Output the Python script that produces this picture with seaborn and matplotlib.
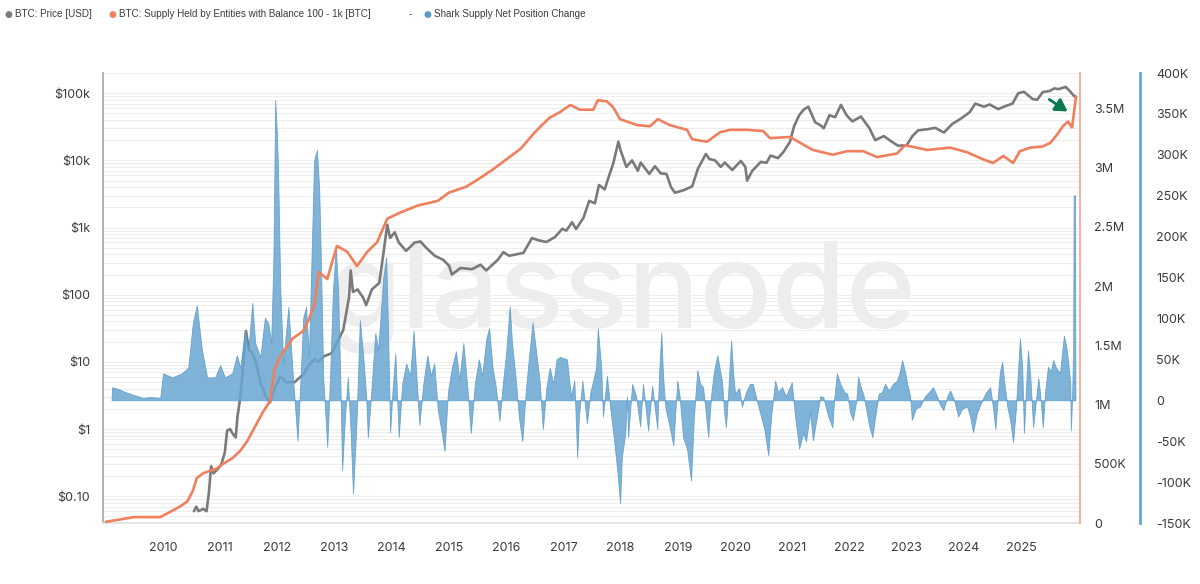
import matplotlib
matplotlib.use("Agg")
import matplotlib.pyplot as plt
import matplotlib.ticker as mticker
import seaborn as sns
import pandas as pd

# BTC price [USD] (decimal year, price)
price_years = [2010.54, 2010.58, 2010.62, 2010.70, 2010.76, 2010.80, 2010.84, 2010.88, 2010.95, 2011.02,
               2011.08, 2011.12, 2011.17, 2011.22, 2011.27, 2011.30, 2011.35, 2011.40, 2011.45, 2011.50,
               2011.55, 2011.62, 2011.70, 2011.80, 2011.87, 2011.95, 2012.05, 2012.15, 2012.30, 2012.45,
               2012.55, 2012.65, 2012.72, 2012.80, 2012.95, 2013.05, 2013.15, 2013.25, 2013.28, 2013.32,
               2013.40, 2013.50, 2013.55, 2013.65, 2013.78, 2013.85, 2013.92, 2013.97, 2014.05, 2014.12,
               2014.25, 2014.40, 2014.50, 2014.60, 2014.75, 2014.90, 2015.00, 2015.05, 2015.20, 2015.40,
               2015.55, 2015.65, 2015.85, 2015.95, 2016.05, 2016.30, 2016.45, 2016.55, 2016.70, 2016.85,
               2016.98, 2017.05, 2017.15, 2017.22, 2017.35, 2017.45, 2017.55, 2017.62, 2017.72, 2017.80,
               2017.87, 2017.96, 2018.00, 2018.10, 2018.20, 2018.30, 2018.35, 2018.50, 2018.60, 2018.70,
               2018.80, 2018.88, 2018.95, 2019.10, 2019.25, 2019.35, 2019.49, 2019.55, 2019.65, 2019.75,
               2019.82, 2019.95, 2020.10, 2020.18, 2020.21, 2020.30, 2020.45, 2020.55, 2020.62, 2020.75,
               2020.85, 2020.96, 2021.03, 2021.12, 2021.20, 2021.28, 2021.40, 2021.50, 2021.55, 2021.65,
               2021.75, 2021.85, 2021.95, 2022.05, 2022.20, 2022.35, 2022.45, 2022.60, 2022.72, 2022.85,
               2023.00, 2023.10, 2023.20, 2023.35, 2023.50, 2023.65, 2023.80, 2023.95, 2024.10, 2024.20,
               2024.35, 2024.45, 2024.60, 2024.70, 2024.85, 2024.95, 2025.05, 2025.20, 2025.28, 2025.38,
               2025.50, 2025.58, 2025.65, 2025.78, 2025.85, 2025.92, 2025.96]
price_usd = [0.06, 0.07, 0.06, 0.065, 0.06, 0.11, 0.28, 0.22, 0.25, 0.30,
             0.45, 0.95, 1.0, 0.85, 0.75, 1.5, 3.0, 8.5, 29, 15,
             14, 10, 5, 3, 2.5, 4.0, 6.0, 5.0, 5.0, 6.5,
             9.0, 11, 10, 12, 13.5, 20, 30, 90, 230, 110,
             120, 90, 70, 120, 150, 400, 1100, 700, 850, 600,
             450, 600, 620, 500, 380, 330, 270, 200, 250, 240,
             280, 230, 330, 430, 380, 420, 700, 650, 610, 720,
             960, 900, 1200, 950, 1400, 2500, 2300, 4300, 3700, 6000,
             9000, 19000, 14000, 8000, 10000, 7000, 9300, 6300, 8200, 6400,
             6300, 4000, 3300, 3600, 4100, 7500, 12500, 10500, 10000, 8000,
             9300, 7200, 9800, 8000, 5000, 7000, 9500, 9200, 11800, 10800,
             13500, 19000, 32000, 47000, 57000, 63000, 37000, 33000, 30000, 47000,
             44000, 67000, 47000, 38000, 45000, 30000, 20000, 23000, 19500, 16500,
             16800, 23000, 28000, 29000, 30500, 26000, 35000, 42000, 52000, 70000,
             63000, 68000, 58000, 63000, 70000, 100000, 105000, 82000, 80000, 104000,
             108000, 118000, 115000, 124000, 108000, 92000, 88000]

# Supply held by entities with balance 100 - 1k BTC (millions of BTC)
supply_years = [2009.00, 2009.25, 2009.50, 2009.95, 2010.07, 2010.30, 2010.42, 2010.52, 2010.59, 2010.70,
                2010.94, 2011.05, 2011.22, 2011.35, 2011.47, 2011.57, 2011.75, 2011.87, 2011.95, 2012.05,
                2012.27, 2012.45, 2012.55, 2012.65, 2012.72, 2012.87, 2013.04, 2013.22, 2013.39, 2013.57,
                2013.74, 2013.92, 2014.14, 2014.45, 2014.80, 2015.00, 2015.30, 2015.50, 2015.75, 2016.00,
                2016.25, 2016.50, 2016.75, 2016.94, 2017.12, 2017.29, 2017.52, 2017.60, 2017.76, 2017.87,
                2017.99, 2018.29, 2018.51, 2018.65, 2018.86, 2019.16, 2019.25, 2019.51, 2019.74, 2019.91,
                2020.21, 2020.49, 2020.61, 2020.96, 2021.14, 2021.36, 2021.71, 2021.96, 2022.24, 2022.48,
                2022.83, 2022.97, 2023.36, 2023.76, 2024.06, 2024.34, 2024.51, 2024.69, 2024.86, 2024.98,
                2025.16, 2025.38, 2025.51, 2025.63, 2025.73, 2025.82, 2025.89, 2025.91, 2025.96]
supply_m = [0.01, 0.03, 0.05, 0.05, 0.08, 0.14, 0.18, 0.27, 0.38, 0.42,
            0.46, 0.50, 0.55, 0.61, 0.69, 0.78, 0.94, 1.03, 1.30, 1.41,
            1.56, 1.62, 1.72, 1.85, 2.12, 2.06, 2.34, 2.29, 2.17, 2.29,
            2.37, 2.57, 2.62, 2.68, 2.72, 2.79, 2.84, 2.90, 2.98, 3.07,
            3.16, 3.30, 3.42, 3.47, 3.53, 3.49, 3.49, 3.57, 3.56, 3.51,
            3.41, 3.36, 3.35, 3.41, 3.36, 3.32, 3.24, 3.22, 3.30, 3.32,
            3.32, 3.31, 3.25, 3.26, 3.21, 3.15, 3.11, 3.14, 3.14, 3.09,
            3.12, 3.19, 3.15, 3.17, 3.13, 3.07, 3.04, 3.10, 3.04, 3.14,
            3.17, 3.18, 3.21, 3.28, 3.35, 3.39, 3.34, 3.41, 3.60]

# Shark supply net position change (thousands of BTC)
shark_years = [2009.10, 2009.11, 2009.21, 2009.34, 2009.51, 2009.65, 2009.77, 2009.95, 2010.00, 2010.16,
               2010.33, 2010.44, 2010.52, 2010.59, 2010.68, 2010.77, 2010.91, 2011.00, 2011.08, 2011.21,
               2011.29, 2011.35, 2011.43, 2011.49, 2011.56, 2011.61, 2011.70, 2011.78, 2011.84, 2011.89,
               2011.93, 2011.96, 2011.99, 2012.01, 2012.05, 2012.10, 2012.19, 2012.24, 2012.27, 2012.31,
               2012.35, 2012.40, 2012.45, 2012.50, 2012.55, 2012.64, 2012.69, 2012.73, 2012.76, 2012.80,
               2012.84, 2012.87, 2012.92, 2012.97, 2013.02, 2013.06, 2013.10, 2013.13, 2013.18, 2013.23,
               2013.28, 2013.32, 2013.38, 2013.44, 2013.50, 2013.55, 2013.58, 2013.64, 2013.71, 2013.76,
               2013.85, 2013.90, 2013.93, 2013.97, 2014.01, 2014.06, 2014.12, 2014.18, 2014.25, 2014.32,
               2014.38, 2014.42, 2014.48, 2014.55, 2014.62, 2014.68, 2014.74, 2014.80, 2014.86, 2014.92,
               2014.98, 2015.05, 2015.12, 2015.18, 2015.25, 2015.32, 2015.38, 2015.45, 2015.52, 2015.58,
               2015.65, 2015.70, 2015.76, 2015.82, 2015.88, 2015.94, 2016.00, 2016.06, 2016.10, 2016.16,
               2016.22, 2016.28, 2016.34, 2016.40, 2016.46, 2016.52, 2016.58, 2016.64, 2016.70, 2016.76,
               2016.82, 2016.88, 2016.94, 2017.06, 2017.13, 2017.19, 2017.24, 2017.27, 2017.33, 2017.41,
               2017.47, 2017.52, 2017.57, 2017.60, 2017.66, 2017.69, 2017.76, 2017.81, 2017.87, 2017.94,
               2017.99, 2018.02, 2018.08, 2018.11, 2018.13, 2018.20, 2018.27, 2018.34, 2018.39, 2018.48,
               2018.55, 2018.64, 2018.67, 2018.71, 2018.74, 2018.78, 2018.85, 2018.92, 2018.95, 2018.99,
               2019.03, 2019.09, 2019.16, 2019.23, 2019.28, 2019.34, 2019.39, 2019.44, 2019.48, 2019.53,
               2019.58, 2019.63, 2019.69, 2019.74, 2019.77, 2019.81, 2019.84, 2019.88, 2019.93, 2019.97,
               2020.00, 2020.07, 2020.12, 2020.19, 2020.26, 2020.31, 2020.38, 2020.44, 2020.51, 2020.58,
               2020.63, 2020.70, 2020.75, 2020.82, 2020.89, 2020.99, 2021.05, 2021.12, 2021.19, 2021.24,
               2021.31, 2021.36, 2021.43, 2021.49, 2021.54, 2021.63, 2021.70, 2021.73, 2021.78, 2021.84,
               2021.91, 2021.96, 2022.01, 2022.06, 2022.12, 2022.15, 2022.20, 2022.24, 2022.29, 2022.34,
               2022.40, 2022.45, 2022.51, 2022.57, 2022.62, 2022.69, 2022.76, 2022.83, 2022.88, 2022.92,
               2022.97, 2023.01, 2023.06, 2023.09, 2023.16, 2023.23, 2023.32, 2023.39, 2023.46, 2023.53,
               2023.58, 2023.64, 2023.71, 2023.76, 2023.83, 2023.90, 2023.97, 2024.06, 2024.11, 2024.16,
               2024.23, 2024.32, 2024.39, 2024.46, 2024.51, 2024.55, 2024.60, 2024.63, 2024.67, 2024.70,
               2024.76, 2024.81, 2024.86, 2024.91, 2024.95, 2024.98, 2025.02, 2025.05, 2025.09, 2025.12,
               2025.16, 2025.21, 2025.26, 2025.30, 2025.33, 2025.38, 2025.42, 2025.47, 2025.52, 2025.56,
               2025.61, 2025.68, 2025.72, 2025.75, 2025.79, 2025.82, 2025.86, 2025.87, 2025.89, 2025.91,
               2025.92, 2025.94, 2025.95]
shark_k = [0, 16, 14, 10, 6, 3, 4, 3, 33, 28,
           33, 40, 94, 116, 61, 28, 28, 43, 28, 33,
           55, 40, 86, 61, 119, 70, 53, 101, 94, 70,
           175, 367, 326, 281, 134, 45, 114, 61, 28, -10,
           -49, 20, 101, 114, 53, 293, 306, 257, 167, 28,
           -20, -57, 30, 134, 187, 134, 20, -85, -20, 28,
           -40, -114, -30, 98, 53, 5, -45, 10, 82, 61,
           150, 175, 94, -39, 10, 57, -45, 20, 45, 30,
           85, 40, -30, 20, 55, 30, 45, -10, -35, -62,
           10, 40, 60, 25, 70, 15, -40, 20, 50, 30,
           75, 88, 40, 15, -25, 20, 60, 115, 70, 30,
           -20, -50, 10, 55, 95, 60, 25, -35, 15, 40,
           20, 50, 53, 50, 5, 24, -70, -20, 24, -28,
           10, 24, 40, 88, 40, -20, 30, -5, -40, -85,
           -126, -70, -40, 5, -45, 20, 5, -32, 20, -37,
           18, -35, 30, 83, 30, -8, -30, -55, -20, 24,
           5, -45, -60, -98, -20, 37, 20, 16, -10, -45,
           5, 35, 55, 35, 24, -15, -33, 10, 73, 30,
           8, 15, -8, 10, 20, 20, 0, -16, -35, -67,
           -20, 24, 10, 16, 5, 22, -20, -59, -40, -50,
           -15, -49, -20, 5, 4, -20, -33, 0, 33, 20,
           10, 8, -15, -24, 0, 29, 15, 8, -10, -30,
           -45, -20, 8, 10, 20, 12, 20, 24, 35, 49,
           35, 20, 5, -24, -10, -8, 5, 10, 16, 5,
           -5, -12, 5, 12, 0, -20, -10, -8, -20, -39,
           -15, 0, 10, 16, -10, -35, 10, 35, 47, 25,
           -8, -25, -51, -10, 40, 76, 40, -40, 20, 61,
           30, -33, 0, 27, 10, -33, 10, 41, 35, 49,
           40, 33, 60, 79, 65, 49, 20, -37, 0, 60,
           250, 251, 0]

price_ticks = [0.1, 1, 10, 100, 1000, 10000, 100000]
price_labels = ["$0.10", "$1", "$10", "$100", "$1k", "$10k", "$100k"]
supply_ticks = [0, 0.5, 1, 1.5, 2, 2.5, 3, 3.5]
supply_labels = ["0", "500K", "1M", "1.5M", "2M", "2.5M", "3M", "3.5M"]
shark_ticks = [-150, -100, -50, 0, 50, 100, 150, 200, 250, 300, 350, 400]
shark_labels = ["-150K", "-100K", "-50K", "0", "50K", "100K", "150K", "200K", "250K", "300K", "350K", "400K"]
year_ticks = list(range(2010, 2026))

price_df = pd.DataFrame({"year": price_years, "price": price_usd})
supply_df = pd.DataFrame({"year": supply_years, "supply": supply_m})

sns.set_theme(style="white")
plt.rcParams["font.family"] = ["Inter", "DejaVu Sans"]

GREY = "#7a7a7a"
ORANGE = "#f07f5d"
BLUE = "#6aa6d2"
TXT = "#3a3a3a"
PX = 0.72  # points per pixel at dpi 100

fig = plt.figure(figsize=(12, 5.84), dpi=100)
ax = fig.add_axes([103 / 1200, 61 / 584, 977 / 1200, 450 / 584])
ax.patch.set_alpha(0)

# watermark
ax.text(0.531, 0.50, "glassnode", transform=ax.transAxes, ha="center", va="center",
        fontsize=86, color="#ededed", zorder=0, family="Inter", fontweight="medium")

# price (left, log)
sns.lineplot(data=price_df, x="year", y="price", ax=ax, color=GREY, linewidth=1.9, zorder=3)
ax.set_yscale("log")
ax.set_ylim(0.04, 2e5)
ax.set_xlim(2008.95, 2026.03)
ax.set_yticks(price_ticks)
ax.set_yticklabels(price_labels)
ax.yaxis.set_minor_locator(mticker.LogLocator(base=10, subs=range(2, 10), numticks=20))
ax.yaxis.set_minor_formatter(mticker.NullFormatter())
ax.grid(True, axis="y", which="both", color="#eeeeee", linewidth=0.8, zorder=0)
ax.set_xticks(year_ticks)
ax.set_xticklabels([str(y) for y in year_ticks])
ax.set_xlabel("")
ax.set_ylabel("")
ax.tick_params(axis="y", which="both", length=0, pad=13 * PX, labelsize=9, labelcolor=TXT)
ax.tick_params(axis="x", length=7 * PX, color="#e2e2e2", pad=12 * PX, labelsize=9, labelcolor=TXT)
ax.spines["left"].set_color("#a8a8a8")
ax.spines["bottom"].set_color("#e2e2e2")
ax.spines["top"].set_visible(False)
ax.spines["right"].set_visible(False)

# shark net position change (far right)
ax_b = ax.twinx()
ax_b.fill_between(shark_years, shark_k, 0, color=BLUE, alpha=0.85, linewidth=0.6,
                  edgecolor="#5b9bc9", zorder=2)
ax_b.set_ylim(-150, 400)
ax_b.set_yticks(shark_ticks)
ax_b.set_yticklabels(shark_labels)
ax_b.spines["right"].set_position(("outward", 60 * PX))
ax_b.spines["right"].set_color("#6aa6d2")
ax_b.spines["right"].set_linewidth(2)
for s in ["left", "top", "bottom"]:
    ax_b.spines[s].set_visible(False)
ax_b.tick_params(axis="y", length=0, pad=16 * PX, labelsize=9, labelcolor=TXT)
ax_b.grid(False)

# supply held by 100 - 1k entities (right)
ax_o = ax.twinx()
sns.lineplot(data=supply_df, x="year", y="supply", ax=ax_o, color=ORANGE, linewidth=1.9)
ax_o.set_ylim(0, 3.8)
ax_o.set_yticks(supply_ticks)
ax_o.set_yticklabels(supply_labels)
ax_o.set_ylabel("")
ax_o.spines["right"].set_color("#f4a88f")
for s in ["left", "top", "bottom"]:
    ax_o.spines[s].set_visible(False)
ax_o.tick_params(axis="y", length=0, pad=14 * PX, labelsize=9, labelcolor=TXT)
ax_o.grid(False)
ax_o.set_xlim(2008.95, 2026.03)

# green arrow near the end
ax_o.annotate("", xy=(1070 / 1200, 1 - 113 / 584), xytext=(1047 / 1200, 1 - 98 / 584),
              xycoords="figure fraction", textcoords="figure fraction",
              arrowprops=dict(arrowstyle="-|>,head_width=0.35,head_length=0.6",
                              color="#0b7a4e", lw=2))

# legend row
ly = 1 - 14 / 584
lfont = ["Liberation Sans", "DejaVu Sans"]
items = [(8, GREY, "BTC: Price [USD]"),
         (112, ORANGE, "BTC: Supply Held by Entities with Balance 100 - 1k [BTC]"),
         (427, "#5b9bc9", "Shark Supply Net Position Change")]
for x, c, label in items:
    fig.text(x / 1200, ly, "\u25CF", color=c, fontsize=6.5, va="center", ha="center", family="DejaVu Sans")
    fig.text((x + 7) / 1200, ly, label, color=TXT, fontsize=7.1, va="center", ha="left", family=lfont)
fig.text(410 / 1200, ly, "-", color=TXT, fontsize=7.1, va="center", ha="center", family=lfont)

fig.savefig("out.png", dpi=100, facecolor="white")
